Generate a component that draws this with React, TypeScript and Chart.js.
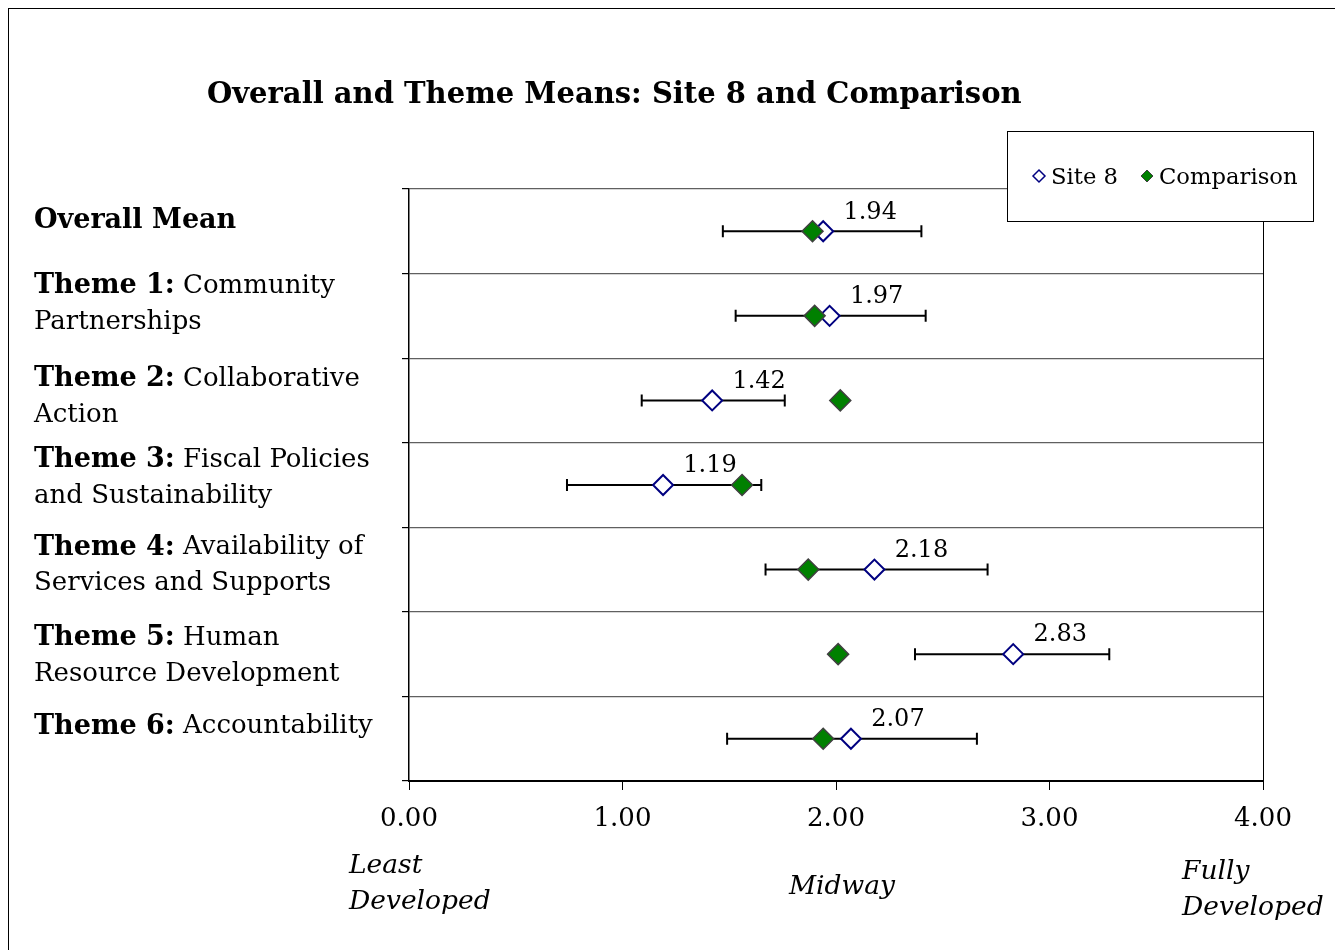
import React, { useEffect, useRef } from "react";
import { Chart, registerables } from "chart.js";

Chart.register(...registerables);

// ---------- data ----------
const categoryBold = ["Overall Mean", "Theme 1:", "Theme 2:", "Theme 3:", "Theme 4:", "Theme 5:", "Theme 6:"];
const categoryRest = ["", " Community", " Collaborative", " Fiscal Policies", " Availability of", " Human", " Accountability"];
const categoryLine2 = ["", "Partnerships", "Action", "and Sustainability", "Services and Supports", "Resource Development", ""];

const site8Means = [1.94, 1.97, 1.42, 1.19, 2.18, 2.83, 2.07];
const site8Low = [1.47, 1.53, 1.09, 0.74, 1.67, 2.37, 1.49];
const site8High = [2.4, 2.42, 1.76, 1.65, 2.71, 3.28, 2.66];
const comparisonMeans = [1.89, 1.9, 2.02, 1.56, 1.87, 2.01, 1.94];

const xTicks = [0, 1, 2, 3, 4];
const seriesNames = ["Site 8", "Comparison"];
const chartTitle = "Overall and Theme Means: Site 8 and Comparison";
const axisNotes = [["Least", "Developed"], ["Midway"], ["Fully", "Developed"]];

// ---------- style ----------
const FONT = "'DejaVu Serif', Georgia, serif";
const labelNudge = [-10, -12, -3, -7, -4, 2, -12];

export default function App() {
  const ref = useRef<HTMLCanvasElement | null>(null);

  useEffect(() => {
    const canvas = ref.current;
    if (!canvas) return;

    const yBoundaries: number[] = [];
    for (let i = 0; i <= categoryBold.length; i++) yBoundaries.push(i - 0.5);

    const drawPlugin = {
      id: "custom",
      beforeDatasetsDraw(chart: any) {
        const ctx = chart.ctx;
        const xs = chart.scales.x;
        const ys = chart.scales.y;
        ctx.save();
        ctx.strokeStyle = "#000";
        ctx.lineWidth = 2;
        site8Means.forEach((_, i) => {
          const y = ys.getPixelForValue(i);
          const x1 = xs.getPixelForValue(site8Low[i]);
          const x2 = xs.getPixelForValue(site8High[i]);
          ctx.beginPath();
          ctx.moveTo(x1, y);
          ctx.lineTo(x2, y);
          ctx.moveTo(x1, y - 6);
          ctx.lineTo(x1, y + 6);
          ctx.moveTo(x2, y - 6);
          ctx.lineTo(x2, y + 6);
          ctx.stroke();
        });
        ctx.restore();
      },
      afterDatasetsDraw(chart: any) {
        const ctx = chart.ctx;
        const xs = chart.scales.x;
        const ys = chart.scales.y;
        const area = chart.chartArea;
        ctx.save();
        // data labels
        ctx.fillStyle = "#000";
        ctx.font = `24px ${FONT}`;
        ctx.textAlign = "center";
        ctx.textBaseline = "middle";
        site8Means.forEach((v, i) => {
          ctx.fillText(v.toFixed(2), xs.getPixelForValue(v) + 47, ys.getPixelForValue(i) - 19);
        });

        // category labels
        ctx.textAlign = "left";
        categoryBold.forEach((b, i) => {
          const cy = ys.getPixelForValue(i) + labelNudge[i];
          const twoLines = categoryLine2[i] !== "";
          const y1 = twoLines ? cy - 18 : cy;
          const x0 = 34;
          ctx.font = `bold 27px ${FONT}`;
          ctx.fillText(b, x0, y1);
          const w = ctx.measureText(b).width;
          ctx.font = `26px ${FONT}`;
          ctx.fillText(categoryRest[i], x0 + w, y1);
          if (twoLines) ctx.fillText(categoryLine2[i], x0, cy + 18);
        });

        // title
        ctx.font = `bold 29px ${FONT}`;
        ctx.textAlign = "left";
        ctx.fillText(chartTitle, 207, 95);

        // axis notes
        ctx.font = `italic 26.5px ${FONT}`;
        ctx.textAlign = "left";
        ctx.fillText(axisNotes[0][0], 349, 866);
        ctx.fillText(axisNotes[0][1], 349, 902);
        ctx.textAlign = "center";
        ctx.fillText(axisNotes[1][0], xs.getPixelForValue(2) + 6, 887);
        ctx.textAlign = "left";
        ctx.fillText(axisNotes[2][0], 1182, 872);
        ctx.fillText(axisNotes[2][1], 1182, 908);

        // plot border (right)
        ctx.strokeStyle = "#000";
        ctx.lineWidth = 1;
        ctx.beginPath();
        ctx.moveTo(area.right + 0.5, area.top);
        ctx.lineTo(area.right + 0.5, area.bottom);
        ctx.stroke();

        // legend
        const lx = 1007, ly = 131, lw = 306, lh = 90;
        ctx.fillStyle = "#fff";
        ctx.fillRect(lx, ly, lw, lh);
        ctx.strokeStyle = "#000";
        ctx.lineWidth = 1;
        ctx.strokeRect(lx + 0.5, ly + 0.5, lw, lh);
        const my = ly + lh / 2;
        const diamond = (x: number, y: number, r: number) => {
          ctx.beginPath();
          ctx.moveTo(x - r, y);
          ctx.lineTo(x, y - r);
          ctx.lineTo(x + r, y);
          ctx.lineTo(x, y + r);
          ctx.closePath();
        };
        diamond(1039, my, 6);
        ctx.fillStyle = "#fff";
        ctx.fill();
        ctx.strokeStyle = "#000080";
        ctx.lineWidth = 1.5;
        ctx.stroke();
        diamond(1147, my, 6);
        ctx.fillStyle = "#008000";
        ctx.fill();
        ctx.strokeStyle = "#404040";
        ctx.lineWidth = 1;
        ctx.stroke();
        ctx.fillStyle = "#000";
        ctx.font = `22.7px ${FONT}`;
        ctx.textAlign = "left";
        ctx.textBaseline = "middle";
        ctx.fillText(seriesNames[0], 1051, my + 2);
        ctx.fillText(seriesNames[1], 1159, my + 2);
        ctx.restore();
      },
    };

    const chart = new Chart(canvas, {
      type: "scatter",
      data: {
        datasets: [
          {
            label: seriesNames[0],
            data: site8Means.map((v, i) => ({ x: v, y: i })),
            pointStyle: "rectRot",
            pointRadius: 10,
            pointHoverRadius: 10,
            pointBackgroundColor: "#ffffff",
            pointBorderColor: "#000080",
            pointBorderWidth: 2,
            order: 2,
          },
          {
            label: seriesNames[1],
            data: comparisonMeans.map((v, i) => ({ x: v, y: i })),
            pointStyle: "rectRot",
            pointRadius: 10.5,
            pointHoverRadius: 10.5,
            pointBackgroundColor: "#008000",
            pointBorderColor: "#404040",
            pointBorderWidth: 1.5,
            order: 1,
          },
        ],
      },
      options: {
        responsive: false,
        animation: false,
        devicePixelRatio: 1,
        layout: { padding: { left: 0, right: 72, top: 189, bottom: 0 } },
        plugins: { legend: { display: false }, tooltip: { enabled: false }, title: { display: false } },
        scales: {
          x: {
            type: "linear",
            min: 0,
            max: 4,
            afterBuildTicks: (scale: any) => {
              scale.ticks = xTicks.map((v) => ({ value: v }));
            },
            afterFit: (scale: any) => {
              scale.height = 169;
            },
            border: { display: true, color: "#000", width: 2 },
            grid: {
              drawOnChartArea: false,
              drawTicks: true,
              tickLength: 9,
              tickColor: "#000",
              tickWidth: 1,
            },
            ticks: {
              color: "#000",
              padding: 14,
              font: { family: FONT, size: 26 },
              callback: (v: any) => Number(v).toFixed(2),
              maxRotation: 0,
              autoSkip: false,
            },
          },
          y: {
            type: "linear",
            min: -0.5,
            max: categoryBold.length - 0.5,
            reverse: true,
            afterBuildTicks: (scale: any) => {
              scale.ticks = yBoundaries.map((v) => ({ value: v }));
            },
            afterFit: (scale: any) => {
              scale.width = 409;
            },
            border: { display: true, color: "#000", width: 1.5 },
            grid: {
              color: "#606060",
              lineWidth: 1.2,
              drawTicks: true,
              tickLength: 7,
              tickColor: "#000",
            },
            ticks: { display: true, callback: () => "", padding: 0 },
          },
        },
      },
      plugins: [drawPlugin],
    } as any);

    return () => chart.destroy();
  }, []);

  return (
    <div style={{ position: "fixed", left: 0, top: 0, width: 1335, height: 950, background: "#fff", overflow: "hidden" }}>
      <div
        style={{
          position: "absolute",
          left: 8,
          top: 8,
          width: 1340,
          height: 960,
          borderLeft: "1px solid #000",
          borderTop: "1px solid #000",
        }}
      />
      <canvas ref={ref} width={1335} height={950} style={{ position: "absolute", left: 0, top: 0 }} />
    </div>
  );
}
